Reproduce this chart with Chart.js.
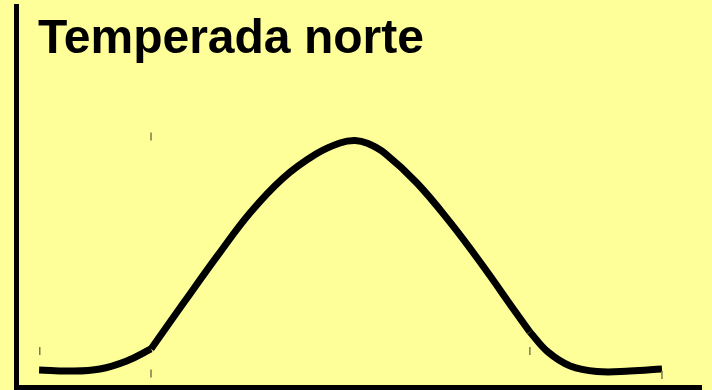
<!DOCTYPE html>
<html lang="es">
<head>
  <meta charset="UTF-8">
  <title>Temperada norte</title>
  <script src="https://cdn.jsdelivr.net/npm/chart.js"></script>
  <style>
    html, body { margin: 0; padding: 0; background: #ffff99; }
    canvas { display: block; }
  </style>
</head>
<body>
  <canvas id="curva" width="712" height="390"></canvas>

<script>
  // titulo
  const titulo = 'Temperada norte';

  // la curva va en tres tramos (cola izquierda, campana, cola derecha)
  // posicion horizontal 0-100, altura 0-100
  const colaIzqX = [3.3, 7.8, 12.2, 16.1, 19.65];
  const colaIzqY = [4.6, 4.3, 4.85, 6.95, 10.1];

  const campanaX = [19.65, 24.6, 29.45, 34.1, 38.95, 43.75, 47.25, 49.45, 51.35, 53.85, 58.5, 63.3, 68.15, 72.8, 75.0];
  const campanaY = [10.1, 22.65, 34.75, 45.75, 54.9, 61.2, 64.1, 64.75, 63.95, 61.35, 53.6, 43.4, 31.85, 20.05, 14.55];

  const colaDerX = [75.0, 77.65, 80.9, 84.8, 89.6, 94.3];
  const colaDerY = [14.55, 9.3, 5.65, 4.2, 4.3, 4.85];

  // marcas pequeñas
  const marcasX = [3.4, 19.65, 19.65, 75.0, 94.3];
  const marcasY = [9.6, 3.7, 65.8, 9.6, 3.3];

  const aPuntos = (xs, ys) => xs.map((x, i) => ({ x: x, y: ys[i] }));

  const tramo = (xs, ys) => ({
    data: aPuntos(xs, ys),
    showLine: true,
    borderColor: '#000',
    borderWidth: 7,
    borderCapStyle: 'butt',
    tension: 0.4,
    pointRadius: 0,
    pointHoverRadius: 0,
    fill: false
  });

  const tituloPlugin = {
    id: 'tituloPlugin',
    afterDraw(chart) {
      const ctx = chart.ctx;
      ctx.save();
      ctx.fillStyle = '#000';
      ctx.font = "bold 48px 'Liberation Sans', Arial, sans-serif";
      ctx.textBaseline = 'alphabetic';
      ctx.textAlign = 'left';
      ctx.fillText(titulo, chart.chartArea.left + 21.5, 53);
      ctx.restore();
    }
  };

  new Chart(document.getElementById('curva'), {
    type: 'scatter',
    data: {
      datasets: [
        {
          data: aPuntos(marcasX, marcasY),
          showLine: false,
          pointStyle: 'line',
          rotation: 90,
          radius: 4,
          hoverRadius: 4,
          borderWidth: 1.5,
          borderColor: '#7a7a50',
          backgroundColor: '#7a7a50'
        },
        tramo(colaIzqX, colaIzqY),
        tramo(campanaX, campanaY),
        tramo(colaDerX, colaDerY)
      ]
    },
    options: {
      responsive: false,
      animation: false,
      layout: {
        autoPadding: false,
        padding: { left: 16.5, right: 11, top: 6, bottom: 2.5 }
      },
      plugins: {
        legend: { display: false },
        tooltip: { enabled: false }
      },
      scales: {
        x: {
          type: 'linear',
          min: 0,
          max: 100,
          ticks: { display: false },
          grid: { display: false, drawTicks: false },
          border: { display: true, color: '#000', width: 5 }
        },
        y: {
          min: 0,
          max: 100,
          ticks: { display: false },
          grid: { display: false, drawTicks: false },
          border: { display: true, color: '#000', width: 5 }
        }
      }
    },
    plugins: [tituloPlugin]
  });
</script>
</body>
</html>
